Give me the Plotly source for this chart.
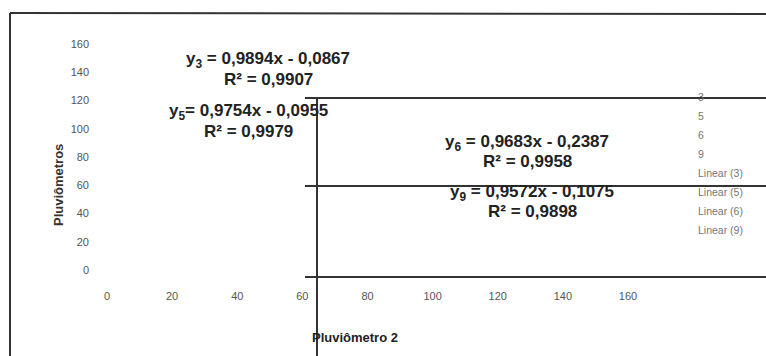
import plotly.graph_objects as go

# ---- data ----
series_names = ["3", "5", "6", "9"]
trend_names = ["Linear (3)", "Linear (5)", "Linear (6)", "Linear (9)"]
x_ticks = [0, 20, 40, 60, 80, 100, 120, 140, 160]
y_ticks = [0, 20, 40, 60, 80, 100, 120, 140, 160]
eq_lines = [
    "y<sub>3</sub> = 0,9894x - 0,0867",
    "y<sub>5</sub>= 0,9754x - 0,0955",
    "y<sub>6</sub> = 0,9683x - 0,2387",
    "y<sub>9</sub> = 0,9572x - 0,1075",
]
r2_lines = ["R² = 0,9907", "R² = 0,9979", "R² = 0,9958", "R² = 0,9898"]
x_title = "Pluviômetro 2"
y_title = "Pluviômetros"

W, H = 766, 356
L, R, T, B = 95, 66, 30, 74  # margins
PW, PH = W - L - R, H - T - B

def px(x):
    return (x - L) / PW

def py(y):
    return 1 - (y - T) / PH

# axis mapping: value 0 at x=107, 160 at x=628 ; y: 0 at 270, 160 at 44
xs = (628 - 107) / 160.0
ys = (270 - 44) / 160.0
x_range = [(L - 107) / xs, (W - R - 107) / xs]
y_range = [(270 - (H - B)) / ys, (270 - T) / ys]

FONT = "Liberation Sans, Arial"

fig = go.Figure()
for n in series_names:
    fig.add_trace(go.Scatter(x=[None], y=[None], mode="markers", name=n,
                             marker=dict(color="rgba(0,0,0,0)", size=1)))
for n in trend_names:
    fig.add_trace(go.Scatter(x=[None], y=[None], mode="lines", name=n,
                             line=dict(color="rgba(0,0,0,0)", width=0)))

# equation labels (positions in pixels: centre x, eq line y, R² line y)
eq_pos = [(268, 60, 79), (248, 112, 131), (527, 143, 161), (532, 193, 211)]
for eq, r2, (ex, ey, ry) in zip(eq_lines, r2_lines, eq_pos):
    for txt, yy in ((eq, ey), (r2, ry)):
        fig.add_annotation(x=px(ex), y=py(yy), xref="paper", yref="paper",
                           text="<b>" + txt + "</b>", showarrow=False,
                           xanchor="center", yanchor="middle",
                           font=dict(family=FONT, size=17, color="#222"))

fig.add_annotation(x=px(355), y=py(337), xref="paper", yref="paper", text="<b>" + x_title + "</b>",
                   showarrow=False, xanchor="center", yanchor="middle",
                   font=dict(family=FONT, size=13, color="#222"))
fig.add_annotation(x=px(58), y=py(185), xref="paper", yref="paper", text="<b>" + y_title + "</b>",
                   showarrow=False, textangle=-90, xanchor="center", yanchor="middle",
                   font=dict(family=FONT, size=13, color="#333"))

# scan-artifact frame lines
line_style = dict(color="#333", width=2)
segs = [
    (10, 13, 766, 14),
    (10, 13, 10, 356),
    (305, 98, 766, 98),
    (305, 186, 766, 186),
    (305, 277, 766, 277),
    (317, 98, 317, 356),
]
for x0, y0, x1, y1 in segs:
    fig.add_shape(type="line", xref="paper", yref="paper",
                  x0=px(x0), y0=py(y0), x1=px(x1), y1=py(y1), line=line_style)

fig.update_layout(
    width=W, height=H,
    margin=dict(l=L, r=R, t=T, b=B),
    paper_bgcolor="white", plot_bgcolor="white",
    showlegend=True,
    legend=dict(x=px(658), y=py(82), xanchor="left", yanchor="top",
                font=dict(family=FONT, size=10.5, color="#777"),
                bgcolor="rgba(0,0,0,0)", itemwidth=30, tracegroupgap=0),
    xaxis=dict(range=x_range, tickvals=x_ticks, showgrid=False, zeroline=False,
               showline=False, ticks="", fixedrange=True, ticklabelstandoff=6,
               tickfont=dict(family=FONT, size=11, color="#555")),
    yaxis=dict(range=y_range, tickvals=y_ticks, showgrid=False, zeroline=False,
               showline=False, ticks="", fixedrange=True, ticklabelstandoff=5,
               tickfont=dict(family=FONT, size=11, color="#555")),
)

fig.write_html("out.html", config={"displayModeBar": False},
               post_script="document.body.style.margin='0';")
